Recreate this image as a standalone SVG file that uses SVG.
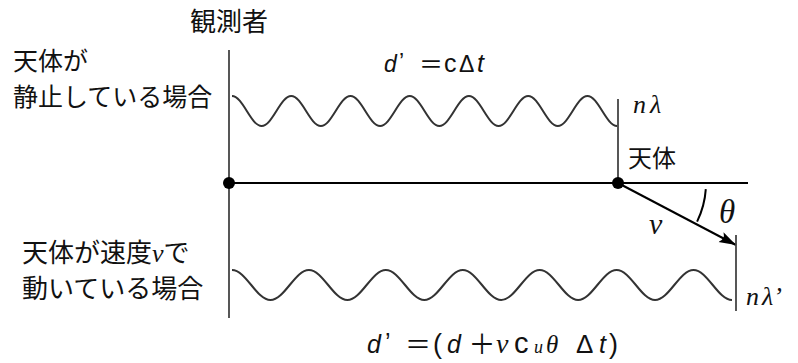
<svg xmlns="http://www.w3.org/2000/svg" width="798" height="363" viewBox="0 0 798 363">
<style>
.jp{font-family:"Noto Sans CJK JP","Noto Sans",sans-serif;fill:#111}
.sf{font-family:"Liberation Serif","DejaVu Serif",serif;font-style:italic;fill:#111}
.ss{font-family:"Liberation Sans","DejaVu Sans",sans-serif;fill:#111}
.it{font-style:italic}
.wave{fill:none;stroke:#333;stroke-width:2}
.vl{stroke:#444;stroke-width:1.8;fill:none}
.ln{stroke:#000;stroke-width:2;fill:none}
</style>
<defs>
<marker id="ah" markerUnits="userSpaceOnUse" markerWidth="18" markerHeight="14" viewBox="0 0 18 14" refX="17" refY="7" orient="auto">
<path d="M0,1.5 L17,7 L0,12.5 Q5,7 0,1.5 Z" fill="#000"/>
</marker>
</defs>
<g id="observer">
<line class="vl" x1="229" y1="50" x2="229" y2="318"/>
<circle cx="229" cy="183" r="6" fill="#000"/>
<text class="jp" x="190" y="31" font-size="26">観測者</text>
</g>
<g id="connectors">
<line class="ln" x1="229" y1="183" x2="748" y2="183"/>
<line class="ln" x1="618" y1="183" x2="736" y2="245" marker-end="url(#ah)"/>
<path class="ln" stroke-width="1.5" d="M705.8,189.1 A88,88 0 0 1 697.1,221.6"/>
</g>
<g id="object">
<line class="vl" x1="618" y1="99" x2="618" y2="183"/>
<circle cx="618" cy="183" r="6" fill="#000"/>
<text class="jp" x="628" y="167" font-size="24">天体</text>
<line class="vl" x1="736" y1="235" x2="736" y2="311"/>
</g>
<g id="wave-rest">
<path class="wave" d="M232,96 c10.79,0 18.83,30 29.62,30 s18.83,-30 29.62,-30 s18.83,30 29.62,30 s18.83,-30 29.62,-30 s18.83,30 29.62,30 s18.83,-30 29.62,-30 s18.83,30 29.62,30 s18.83,-30 29.62,-30 s18.83,30 29.62,30 s18.83,-30 29.62,-30 s18.83,30 29.62,30 s18.83,-30 29.62,-30 s18.83,30 29.62,30"/>
<text class="sf" x="633" y="113" font-size="26">n<tspan dx="4">λ</tspan></text>
</g>
<g id="wave-moving">
<path class="wave" d="M232,270 c14.01,0 24.45,30 38.46,30 s24.45,-30 38.46,-30 s24.45,30 38.46,30 s24.45,-30 38.46,-30 s24.45,30 38.46,30 s24.45,-30 38.46,-30 s24.45,30 38.46,30 s24.45,-30 38.46,-30 s24.45,30 38.46,30 s24.45,-30 38.46,-30 s24.45,30 38.46,30 s24.45,-30 38.46,-30 s24.45,30 38.46,30"/>
<text class="sf" x="746" y="305" font-size="26">n<tspan dx="3">λ’</tspan></text>
</g>
<g id="labels">
<text class="jp" x="13" y="70" font-size="25">天体が</text>
<text class="jp" x="13" y="106" font-size="25">静止している場合</text>
<text class="jp" x="22" y="262" font-size="26">天体が速度<tspan class="sf" font-size="26">ν</tspan>で</text>
<text class="jp" x="22" y="298" font-size="26">動いている場合</text>
<text class="sf" x="649" y="234" font-size="30">ν</text>
<text class="sf" x="719" y="223" font-size="33">θ</text>
</g>
<g id="formula-rest" font-size="23">
<text class="ss it" x="384" y="72">d</text>
<text class="ss" x="399" y="70">’</text>
<text class="jp" x="431" y="73" text-anchor="middle" font-size="24">＝</text>
<text class="ss" x="444" y="72" font-size="25">c</text>
<text class="ss" x="459" y="72" font-size="23">Δ</text>
<text class="ss it" x="477" y="72" font-size="25">t</text>
</g>
<g id="formula-moving" font-size="25">
<text class="ss it" x="367" y="353">d</text>
<text class="ss" x="385" y="351">’</text>
<text class="jp" x="418" y="354" text-anchor="middle" font-size="26">＝</text>
<text class="ss" x="433" y="353" font-size="27">(</text>
<text class="ss it" x="447" y="353">d</text>
<text class="jp" x="482" y="354" text-anchor="middle" font-size="27">＋</text>
<text class="sf" x="496" y="353" font-size="28">ν</text>
<text class="ss" x="514" y="353" font-size="29">c</text>
<text class="sf" x="534" y="353" font-size="18">u</text>
<text class="sf" x="546" y="353" font-size="25">θ</text>
<text class="ss" x="576" y="353" font-size="26">Δ</text>
<text class="ss it" x="599" y="353">t</text>
<text class="ss" x="609" y="353" font-size="27">)</text>
</g>
</svg>
